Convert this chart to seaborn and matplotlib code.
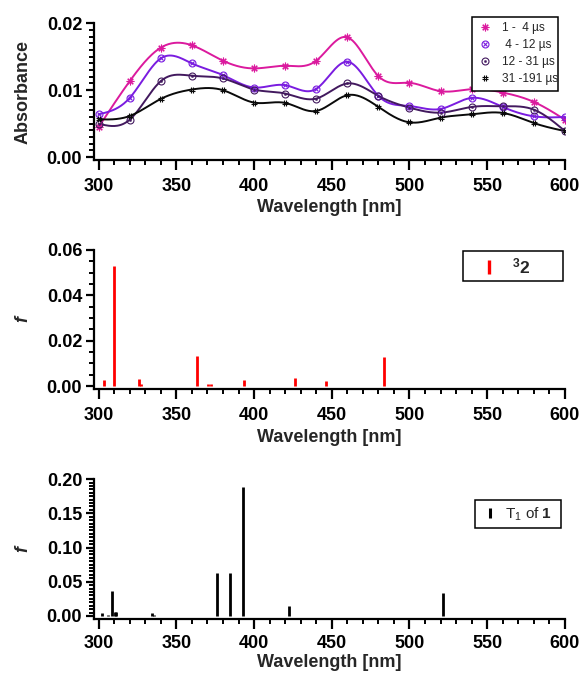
import numpy as np
import pandas as pd
import matplotlib
matplotlib.use("Agg")
import matplotlib.pyplot as plt
import seaborn as sns
from matplotlib.ticker import MultipleLocator, FormatStrFormatter
from matplotlib.lines import Line2D
from matplotlib.path import Path

# ---------------- data ----------------
wavelength = [300, 320, 340, 360, 380, 400, 420, 440, 460, 480, 500, 520, 540, 560, 580, 600]
abs_1_4 = [0.0045, 0.01135, 0.01635, 0.0167, 0.0144, 0.01325, 0.01365, 0.0144, 0.0179,
           0.0121, 0.0111, 0.00985, 0.01015, 0.00965, 0.00825, 0.0056]
abs_4_12 = [0.0064, 0.00885, 0.01475, 0.0140, 0.01225, 0.0104, 0.01075, 0.0102, 0.01425,
            0.00915, 0.00765, 0.0072, 0.00885, 0.0075, 0.0061, 0.0060]
abs_12_31 = [0.0050, 0.0056, 0.01135, 0.01215, 0.01175, 0.0101, 0.0095, 0.00875, 0.0110,
             0.00915, 0.0074, 0.00665, 0.0075, 0.0076, 0.0071, 0.0039]
abs_31_191 = [0.00565, 0.00615, 0.0087, 0.0101, 0.0100, 0.00815, 0.0081, 0.0069, 0.00925,
              0.0075, 0.0052, 0.0059, 0.0064, 0.0066, 0.0051, 0.0039]
series_labels = ["1 -  4 \u00b5s", " 4 - 12 \u00b5s", "12 - 31 \u00b5s", "31 -191 \u00b5s"]

calc2_wl = [303.2, 310.2, 325.7, 327.3, 363.5, 370.5, 372.0, 393.3, 426.5, 446.0, 483.4]
calc2_f = [0.0026, 0.0529, 0.0032, 0.0008, 0.0132, 0.0009, 0.0008, 0.0028, 0.0035, 0.0020, 0.0128]

calc1_wl = [301.9, 306.0, 308.8, 310.3, 311.2, 334.5, 335.6, 376.0, 384.4, 392.8, 422.2, 521.6]
calc1_f = [0.0042, 0.0020, 0.0362, 0.0062, 0.0060, 0.0044, 0.0020, 0.0621, 0.0626, 0.1890, 0.0152, 0.0337]

# ---------------- style ----------------
sns.set_theme(style="ticks")
plt.rcParams["font.family"] = ["Liberation Sans", "DejaVu Sans"]
plt.rcParams["mathtext.fontset"] = "custom"
plt.rcParams["mathtext.rm"] = "Liberation Sans"
plt.rcParams["mathtext.bf"] = "Liberation Sans:bold"
plt.rcParams["mathtext.it"] = "Liberation Sans:italic"
plt.rcParams["mathtext.default"] = "regular"

colors = ["#DB1A9E", "#7A1CE0", "#42195E", "#0A0A0A"]

hash_path = Path(
    [(-0.35, -1), (-0.35, 1), (0.35, -1), (0.35, 1), (-1, -0.35), (1, -0.35), (-1, 0.35), (1, 0.35)],
    [Path.MOVETO, Path.LINETO] * 4)

# each series marker is a list of overlaid marker layers
marker_layers = [
    [dict(marker=(8, 2, 0), markersize=5.5, markeredgewidth=0.8)],
    [dict(marker="o", markersize=5, markeredgewidth=0.8, markerfacecolor="none"),
     dict(marker="x", markersize=3.4, markeredgewidth=0.8)],
    [dict(marker="o", markersize=5, markeredgewidth=0.8, markerfacecolor="none"),
     dict(marker="o", markersize=1.6, markeredgewidth=0.3)],
    [dict(marker=hash_path, markersize=5, markeredgewidth=0.8, markerfacecolor="none")],
]


def spline_curve(x, y, n=500):
    """natural cubic spline used only to render a smooth line through the points"""
    x = np.asarray(x, float)
    y = np.asarray(y, float)
    m = len(x)
    h = np.diff(x)
    A = np.zeros((m, m))
    b = np.zeros(m)
    A[0, 0] = A[-1, -1] = 1
    for i in range(1, m - 1):
        A[i, i - 1] = h[i - 1]
        A[i, i] = 2 * (h[i - 1] + h[i])
        A[i, i + 1] = h[i]
        b[i] = 6 * ((y[i + 1] - y[i]) / h[i] - (y[i] - y[i - 1]) / h[i - 1])
    M = np.linalg.solve(A, b)
    xs = np.linspace(x[0], x[-1], n)
    idx = np.clip(np.searchsorted(x, xs) - 1, 0, m - 2)
    x0, x1 = x[idx], x[idx + 1]
    hh = x1 - x0
    t0 = x1 - xs
    t1 = xs - x0
    ys = (M[idx] * t0 ** 3 / (6 * hh) + M[idx + 1] * t1 ** 3 / (6 * hh)
          + (y[idx] / hh - M[idx] * hh / 6) * t0 + (y[idx + 1] / hh - M[idx + 1] * hh / 6) * t1)
    return xs, ys


def style_axis(ax, ylim, ymajor, yminor, ylabel, label_italic=False, xpad=6, xlab_y=-0.285):
    ax.set_xlim(297, 600)
    ax.set_ylim(*ylim)
    ax.xaxis.set_major_locator(MultipleLocator(50))
    ax.xaxis.set_minor_locator(MultipleLocator(10))
    ax.yaxis.set_major_locator(MultipleLocator(ymajor))
    ax.yaxis.set_minor_locator(MultipleLocator(yminor))
    ax.yaxis.set_major_formatter(FormatStrFormatter("%.2f"))
    for s in ["top", "right"]:
        ax.spines[s].set_visible(False)
    for s in ["left", "bottom"]:
        ax.spines[s].set_linewidth(1.6)
        ax.spines[s].set_color("black")
    ax.tick_params(axis="x", which="major", direction="out", length=7, width=1.6, colors="black",
                   labelsize=13, pad=xpad)
    ax.tick_params(axis="x", which="minor", direction="out", length=3.8, width=1.4, colors="black")
    ax.tick_params(axis="y", which="major", direction="out", length=6, width=1.6, colors="black",
                   labelsize=13, pad=2.5)
    ax.tick_params(axis="y", which="minor", direction="out", length=3.5, width=1.4, colors="black")
    for lab in ax.get_xticklabels() + ax.get_yticklabels():
        lab.set_fontweight("bold")
    ax.set_xlabel("Wavelength [nm]", fontsize=13, fontweight="bold")
    ax.xaxis.set_label_coords(0.5, xlab_y)
    if label_italic:
        ax.set_ylabel(ylabel, fontsize=13, fontweight="bold", fontstyle="italic")
    else:
        ax.set_ylabel(ylabel, fontsize=13, fontweight="bold")
    ax.yaxis.set_label_coords(-0.133, 0.5)
    ax.set_facecolor("white")


fig = plt.figure(figsize=(5.8, 6.76), dpi=100)
fig.patch.set_facecolor("white")

ax1 = fig.add_axes([0.162, 0.763, 0.812, 0.2027])
ax2 = fig.add_axes([0.162, 0.4246, 0.812, 0.2056])
ax3 = fig.add_axes([0.162, 0.0843, 0.812, 0.207])

# ---- panel 1: transient absorption ----
all_series = [abs_1_4, abs_4_12, abs_12_31, abs_31_191]
frames = []
for lab, vals in zip(series_labels, all_series):
    xs, ys = spline_curve(wavelength, vals)
    frames.append(pd.DataFrame({"Wavelength": xs, "Absorbance": ys, "Delay": lab}))
curves = pd.concat(frames, ignore_index=True)
sns.lineplot(data=curves, x="Wavelength", y="Absorbance", hue="Delay",
             palette=dict(zip(series_labels, colors)), sort=False, estimator=None,
             linewidth=1.4, legend=False, ax=ax1)
handles = []
for vals, c, layers in zip(all_series, colors, marker_layers):
    hs = []
    for lay in layers:
        ax1.plot(wavelength, vals, linestyle="none", color=c, **lay)
        hs.append(Line2D([], [], linestyle="none", color=c, **lay))
    handles.append(tuple(hs))
style_axis(ax1, (-0.00045, 0.02), 0.01, 0.001, "Absorbance")
leg1 = ax1.legend(handles, series_labels, loc="upper left",
                  bbox_to_anchor=(472 / 580, 1 - 85 / 676, 86 / 580, 68 / 676),
                  bbox_transform=fig.transFigure, mode="expand",
                  fontsize=8.6, frameon=True, fancybox=False, framealpha=1, edgecolor="black",
                  handlelength=1.2, handletextpad=0.9, labelspacing=0.42, borderpad=0.45,
                  borderaxespad=0)
leg1.get_frame().set_linewidth(1.1)

# ---- panel 2: calculated spectrum of 3-2 ----
ax2.vlines(calc2_wl, 0, calc2_f, color="#FF0000", linewidth=2.0)
style_axis(ax2, (-0.0013, 0.06), 0.02, 0.005, "f", label_italic=True)
h2 = [Line2D([], [], linestyle="none", marker="|", markersize=10, markeredgewidth=2.4, color="#FF0000")]
leg2 = ax2.legend(h2, [r"$^{\mathbf{3}}$2"], loc="upper left",
                  bbox_to_anchor=(463 / 580, 1 - 282 / 676, 100 / 580, 31 / 676),
                  bbox_transform=fig.transFigure, mode="expand",
                  prop={"weight": "bold", "size": 12.5}, frameon=True, fancybox=False,
                  framealpha=1, edgecolor="black", handlelength=2.4, handletextpad=0.1,
                  borderpad=0.3, borderaxespad=0)
leg2.get_frame().set_linewidth(1.1)

# ---- panel 3: calculated spectrum of T1 of 1 ----
ax3.vlines(calc1_wl, 0, calc1_f, color="black", linewidth=2.0)
style_axis(ax3, (-0.0045, 0.2), 0.05, 0.005, "f", label_italic=True, xpad=4.5, xlab_y=-0.25)
h3 = [Line2D([], [], linestyle="none", marker="|", markersize=7, markeredgewidth=2.2, color="black")]
leg3 = ax3.legend(h3, [r"T$_1$ of $\mathbf{1}$"], loc="upper left",
                  bbox_to_anchor=(475 / 580, 1 - 528 / 676, 86 / 580, 28 / 676),
                  bbox_transform=fig.transFigure, mode="expand",
                  prop={"size": 11}, frameon=True, fancybox=False,
                  framealpha=1, edgecolor="black", handlelength=1.2, handletextpad=0.4,
                  borderpad=0.35, borderaxespad=0)
leg3.get_frame().set_linewidth(1.1)

fig.savefig("out.png", dpi=100, facecolor="white")
